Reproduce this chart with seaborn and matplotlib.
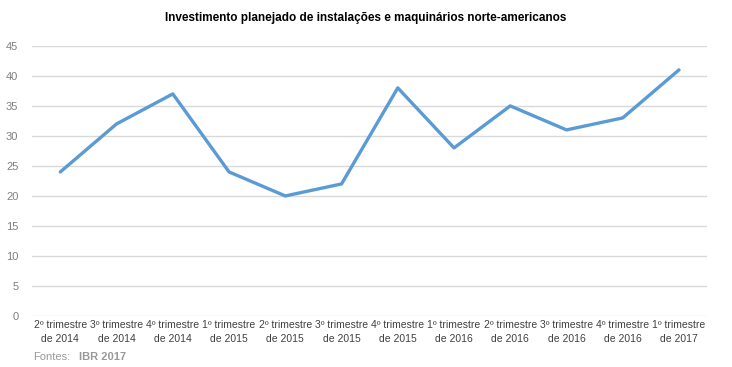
import pandas as pd
import matplotlib.pyplot as plt
import seaborn as sns

quarters = ["2º trimestre\nde 2014", "3º trimestre\nde 2014", "4º trimestre\nde 2014",
            "1º trimestre\nde 2015", "2º trimestre\nde 2015", "3º trimestre\nde 2015",
            "4º trimestre\nde 2015", "1º trimestre\nde 2016", "2º trimestre\nde 2016",
            "3º trimestre\nde 2016", "4º trimestre\nde 2016", "1º trimestre\nde 2017"]
values = [24, 32, 37, 24, 20, 22, 38, 28, 35, 31, 33, 41]
yticks = [0, 5, 10, 15, 20, 25, 30, 35, 40, 45]


def main():
    sns.set_style("white")
    plt.rcParams['font.family'] = ['Liberation Sans', 'DejaVu Sans']
    df = pd.DataFrame({"pos": range(len(quarters)), "valor": values})

    fig = plt.figure(figsize=(7.32, 3.67), dpi=100)
    ax = fig.add_axes([0.044, 0.139, 0.922, 0.736])
    sns.lineplot(data=df, x="pos", y="valor", ax=ax, color="#5B9BD5", linewidth=2.4)

    ax.set_xlim(-0.5, len(quarters) - 0.5)
    ax.set_ylim(0, 45)
    ax.set_yticks(yticks)
    ax.set_xticks(range(len(quarters)))
    ax.set_xticklabels(quarters, fontsize=7.5, color="#404040", linespacing=1.5)
    ax.tick_params(axis="y", labelsize=8, labelcolor="#7f7f7f", length=0, pad=10)
    ax.tick_params(axis="x", length=0, pad=3)
    ax.yaxis.grid(True, color="#d9d9d9", linewidth=1)
    ax.set_axisbelow(True)
    for s in ax.spines.values():
        s.set_visible(False)
    ax.set_xlabel("")
    ax.set_ylabel("")

    fig.text(0.5, 0.952, "Investimento planejado de instalações e maquinários norte-americanos",
             ha="center", va="center", fontsize=8.5, color="black", fontweight="bold")
    fig.text(0.045, 0.027, "Fontes:", ha="left", va="center", fontsize=8, color="#999999")
    fig.text(0.108, 0.027, "IBR 2017", ha="left", va="center", fontsize=8,
             color="#999999", fontweight="bold")

    fig.savefig("out.png", dpi=100)


if __name__ == "__main__":
    main()
